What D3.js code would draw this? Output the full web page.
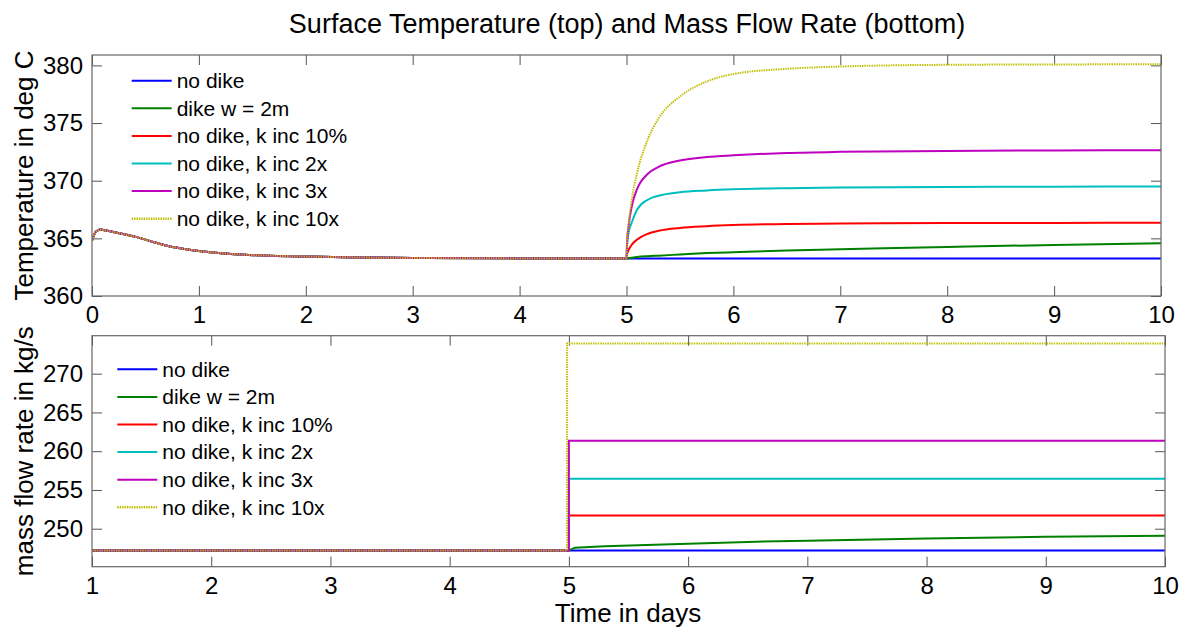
<!DOCTYPE html>
<html>
<head>
<meta charset="utf-8">
<script src="https://cdn.jsdelivr.net/npm/d3@7"></script>
<style>
  body { margin: 0; background: #fff; }
  svg text { font-family: "Liberation Sans", Arial, sans-serif; fill: #000; }
  .axis path.domain { display: none; }
  .axis line { stroke: #555; }
  .frame { fill: none; stroke: #666; stroke-width: 1.2; }
  .covid-line { fill: none; stroke-width: 2; }
</style>
</head>
<body>
<div id="chart"></div>
<script>

const width = 1181, height = 627

// series names and colours (MATLAB default order)
const seriesNames = ['no dike', 'dike w = 2m', 'no dike, k inc 10%', 'no dike, k inc 2x', 'no dike, k inc 3x', 'no dike, k inc 10x']
const seriesColors = ['#0000ff', '#008000', '#ff0000', '#00bfbf', '#bf00bf', '#bfbf00']

// ---- top panel: surface temperature (deg C) ----
// common part before day 5 (all runs identical)
const preTime = [0, 0.03, 0.06, 0.08, 0.12, 0.2, 0.3, 0.4, 0.55, 0.7, 0.85, 1.0, 1.3, 1.6, 2.0, 2.5, 3.0, 4.0, 5.0]
const preTemp = [364.8, 365.5, 365.72, 365.76, 365.7, 365.55, 365.35, 365.15, 364.75, 364.35, 364.1, 363.9, 363.65, 363.52, 363.43, 363.34, 363.3, 363.26, 363.25]

// after day 5
const postTime = [5, 5.005, 5.02, 5.05, 5.1, 5.2, 5.3, 5.5, 5.75, 6, 6.5, 7, 8, 9, 10]
const tempNoDike = [363.25, 363.25, 363.25, 363.25, 363.25, 363.25, 363.25, 363.25, 363.25, 363.25, 363.25, 363.25, 363.25, 363.25, 363.25]
const tempDike2m = [363.25, 363.26, 363.28, 363.32, 363.38, 363.45, 363.5, 363.6, 363.72, 363.8, 363.95, 364.05, 364.25, 364.43, 364.58]
const tempK10pct = [363.25, 363.6, 364.0, 364.45, 364.9, 365.4, 365.65, 365.9, 366.05, 366.15, 366.25, 366.28, 366.32, 366.34, 366.35]
const tempK2x = [363.25, 364.3, 365.5, 366.4, 367.5, 368.35, 368.7, 369.0, 369.15, 369.25, 369.35, 369.4, 369.45, 369.48, 369.5]
const tempK3x = [363.25, 364.6, 366.1, 367.8, 369.3, 370.6, 371.2, 371.75, 372.05, 372.2, 372.4, 372.5, 372.58, 372.62, 372.65]
const tempK10x = [363.25, 364.7, 366.2, 368.4, 370.7, 373.6, 375.4, 377.3, 378.6, 379.25, 379.7, 379.9, 380.05, 380.08, 380.1]

const tempTicksX = [0, 1, 2, 3, 4, 5, 6, 7, 8, 9, 10]
const tempTicksY = [360, 365, 370, 375, 380]

// ---- bottom panel: mass flow rate (kg/s) ----
const baseFlow = 247.2
const flowStartDay = [5, 5, 5, 5, 5, 4.985]
const flowLevels = [247.2, null, 251.7, 256.45, 261.35, 273.9]
const dikeFlowTime = [5, 5.05, 5.3, 6, 6.5, 7, 8, 9, 10]
const dikeFlowRate = [247.2, 247.55, 247.75, 248.05, 248.3, 248.45, 248.75, 248.95, 249.1]

const flowTicksX = [1, 2, 3, 4, 5, 6, 7, 8, 9, 10]
const flowTicksY = [250, 255, 260, 265, 270]

const tempPost = [tempNoDike, tempDike2m, tempK10pct, tempK2x, tempK3x, tempK10x]

const tempSeries = tempPost.map(vals => {
	let pts = preTime.map((t, i) => [t, preTemp[i]])
	return pts.concat(postTime.slice(1).map((t, i) => [t, vals[i + 1]]))
})

const flowSeries = flowLevels.map((lvl, k) => {
	if (lvl === null) {
		return [[1, baseFlow]].concat(dikeFlowTime.map((t, i) => [t, dikeFlowRate[i]]))
	}
	let s = flowStartDay[k]
	return [[1, baseFlow], [s, baseFlow], [s, lvl], [10, lvl]]
})

let svg = d3.select('#chart').append('svg')
.attr('width', width)
.attr('height', height)

svg.append('text')
.attr('x', 627)
.attr('y', 33)
.attr('text-anchor', 'middle')
.style('font-size', '27px')
.text('Surface Temperature (top) and Mass Flow Rate (bottom)')

const drawPanel = (opt) => {

	let g = svg.append('g')

	let xScale = d3.scaleLinear().domain(opt.xDomain).range([opt.left, opt.right])
	let yScale = d3.scaleLinear().domain(opt.yDomain).range([opt.bottom, opt.top])

	// inward ticks on all four sides
	g.append('g')
	.attr('class', 'axis')
	.attr('transform', `translate(0,${opt.bottom})`)
	.call(d3.axisBottom(xScale).tickValues(opt.xTicks).tickSizeInner(-10).tickSizeOuter(0).tickPadding(opt.xPad))
	.selectAll('text')
	.style('font-size', '24px')

	g.append('g')
	.attr('class', 'axis')
	.attr('transform', `translate(0,${opt.top})`)
	.call(d3.axisTop(xScale).tickValues(opt.xTicks).tickSizeInner(-10).tickSizeOuter(0).tickFormat(''))

	g.append('g')
	.attr('class', 'axis')
	.attr('transform', `translate(${opt.left},0)`)
	.call(d3.axisLeft(yScale).tickValues(opt.yTicks).tickSizeInner(-10).tickSizeOuter(0).tickPadding(9))
	.selectAll('text')
	.style('font-size', '24px')

	g.append('g')
	.attr('class', 'axis')
	.attr('transform', `translate(${opt.right},0)`)
	.call(d3.axisRight(yScale).tickValues(opt.yTicks).tickSizeInner(-10).tickSizeOuter(0).tickFormat(''))

	g.selectAll('.axis text').attr('fill', '#000')

	let clip = 'clip-' + opt.id
	svg.append('clipPath').attr('id', clip)
	.append('rect')
	.attr('x', opt.left).attr('y', opt.top)
	.attr('width', opt.right - opt.left).attr('height', opt.bottom - opt.top)

	const line = d3.line()
	.curve(opt.smooth ? d3.curveMonotoneX : d3.curveLinear)
	.x(d => xScale(d[0]))
	.y(d => yScale(d[1]))

	let lines = g.append('g').attr('clip-path', `url(#${clip})`)

	opt.series.forEach((s, i) => {
		lines.append('path')
		.datum(s)
		.attr('class', 'covid-line')
		.attr('stroke', seriesColors[i])
		.attr('stroke-width', i === 5 ? 2.4 : 2)
		.attr('stroke-dasharray', i === 5 ? '1.4,1' : null)
		.attr('d', line)
	})

	g.append('rect')
	.attr('class', 'frame')
	.attr('x', opt.left).attr('y', opt.top)
	.attr('width', opt.right - opt.left).attr('height', opt.bottom - opt.top)

	// legend (no box)
	let legend = g.append('g')
	seriesNames.forEach((name, i) => {
		let yy = opt.legendY + i * 27.6
		legend.append('line')
		.attr('x1', opt.legendX).attr('x2', opt.legendX + 40)
		.attr('y1', yy).attr('y2', yy)
		.attr('stroke', seriesColors[i])
		.attr('stroke-width', i === 5 ? 2.4 : 2)
		.attr('stroke-dasharray', i === 5 ? '1.4,1' : null)
		legend.append('text')
		.attr('x', opt.legendX + 45)
		.attr('y', yy)
		.attr('dy', '0.35em')
		.style('font-size', '21px')
		.text(name)
	})

	svg.append('text')
	.attr('transform', `translate(33,${(opt.top + opt.bottom) / 2}) rotate(-90)`)
	.attr('text-anchor', 'middle')
	.style('font-size', '26px')
	.text(opt.yLabel)
}

drawPanel({
	id: 'temp',
	left: 92, right: 1161, top: 55, bottom: 296,
	xDomain: [0, 10], yDomain: [360, 380.9],
	xTicks: tempTicksX, yTicks: tempTicksY, xPad: 10,
	series: tempSeries, smooth: true,
	legendX: 131.7, legendY: 80.7,
	yLabel: 'Temperature in deg C'
})

drawPanel({
	id: 'flow',
	left: 92, right: 1165, top: 335.7, bottom: 566.7,
	xDomain: [1, 10], yDomain: [245.1, 274.9],
	xTicks: flowTicksX, yTicks: flowTicksY, xPad: 10,
	series: flowSeries, smooth: false,
	legendX: 117.3, legendY: 369.3,
	yLabel: 'mass flow rate in kg/s'
})

svg.append('text')
.attr('x', 628)
.attr('y', 622)
.attr('text-anchor', 'middle')
.style('font-size', '26px')
.text('Time in days')

</script>
</body>
</html>
